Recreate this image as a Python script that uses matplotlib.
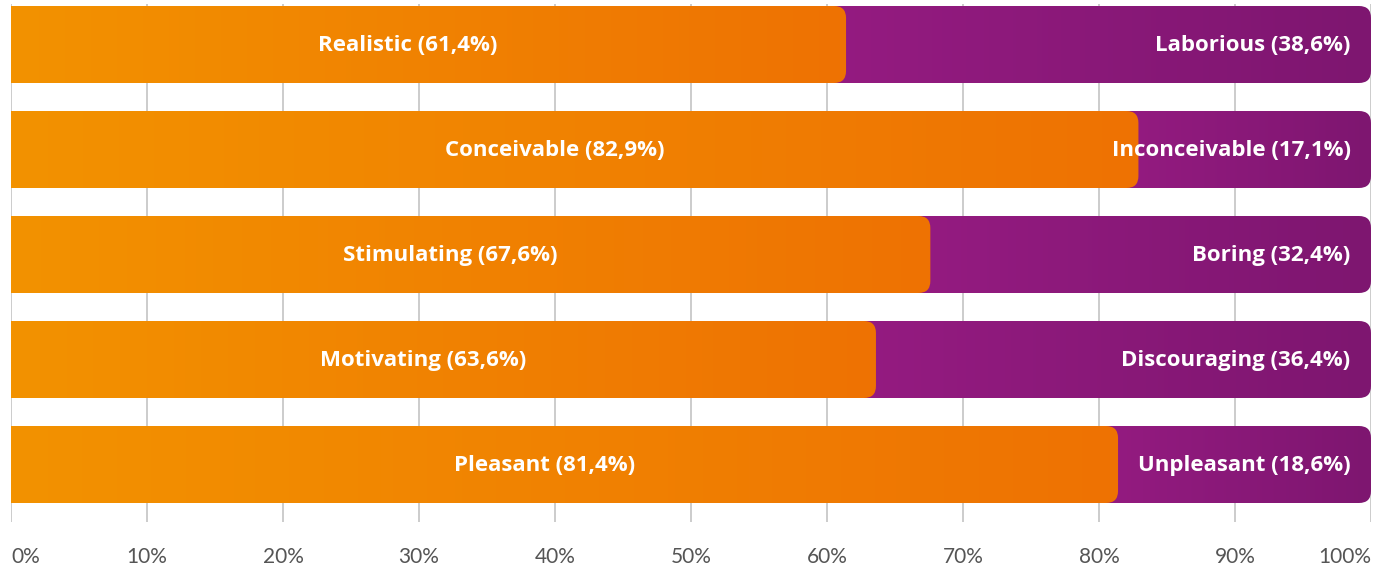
import numpy as np
import matplotlib
matplotlib.use("Agg")
import matplotlib.pyplot as plt
from matplotlib.patches import FancyBboxPatch
from matplotlib.colors import to_rgb

# survey answers, one row per pair of opposites
left_labels = ["Realistic", "Conceivable", "Stimulating", "Motivating", "Pleasant"]
right_labels = ["Laborious", "Inconceivable", "Boring", "Discouraging", "Unpleasant"]
left_values = [61.4, 82.9, 67.6, 63.6, 81.4]
right_values = [38.6, 17.1, 32.4, 36.4, 18.6]
tick_values = [0, 10, 20, 30, 40, 50, 60, 70, 80, 90, 100]

ORANGE = ("#F39200", "#EE7203")
PURPLE = ("#951B81", "#7E1670")

W, H = 1394, 570
fig = plt.figure(figsize=(W / 100, H / 100), dpi=100)
# axes in pixel terms: 0% at x=11, 100% at x=1371, bottom at y=522, top at y=4
ax = fig.add_axes([11 / W, (H - 522) / H, 1360 / W, 518 / H])
ylo, yhi = (522 - 44.5) / 105, (4 - 44.5) / 105
ax.set_xlim(0, 100)
ax.set_ylim(ylo, yhi)

px_x = 100 / 1360          # data units per pixel, x
px_y = 1 / 105             # data units per pixel, y
aspect = px_y / px_x
radius = 12 * px_x
bar_h = 77 / 105


def gradient_bar(x0, x1, y, colors, zorder):
    patch = FancyBboxPatch((x0, y - bar_h / 2), x1 - x0, bar_h,
                           boxstyle="round,pad=0,rounding_size=%f" % radius,
                           mutation_aspect=aspect, linewidth=0,
                           facecolor="none", zorder=zorder)
    ax.add_patch(patch)
    c0, c1 = np.array(to_rgb(colors[0])), np.array(to_rgb(colors[1]))
    t = np.linspace(0, 1, 256)[None, :, None]
    img = c0 + (c1 - c0) * t
    im = ax.imshow(img, extent=(max(x0, 0), x1, y + bar_h / 2, y - bar_h / 2),
                   aspect="auto", interpolation="bilinear", zorder=zorder)
    im.set_clip_path(patch)


def pct(v):
    return str(v).replace(".", ",") + "%"


label_font = dict(color="white", fontsize=16, fontweight="bold",
                  family="Open Sans", va="center", zorder=5)

for i in range(len(left_labels)):
    lv, rv = left_values[i], right_values[i]
    # purple runs from under the orange corner to 100%
    gradient_bar(lv - 2 * radius, lv + rv, i, PURPLE, 2)
    # orange starts left of the axis so its left edge is square
    gradient_bar(-2 * radius, lv, i, ORANGE, 3)
    ax.text(lv / 2 - 1.5, i + 0.01, "%s (%s)" % (left_labels[i], pct(lv)),
            ha="center", **label_font)
    ax.text(98.5, i + 0.01, "%s (%s)" % (right_labels[i], pct(rv)),
            ha="right", **label_font)

ax.set_xticks(tick_values)
ax.set_xticklabels(["%d%%" % v for v in tick_values], color="#555555",
                   fontsize=15, family="Lato")
ax.tick_params(axis="x", length=0, pad=18)
# keep the end labels inside the figure
ticklabels = ax.get_xticklabels()
ticklabels[0].set_horizontalalignment("left")
ticklabels[-1].set_horizontalalignment("right")
ax.set_yticks([])
ax.grid(axis="x", color="#cccccc", linewidth=1.4, zorder=0)
ax.set_axisbelow(True)
for s in ax.spines.values():
    s.set_visible(False)

fig.savefig("out.png", dpi=100)
